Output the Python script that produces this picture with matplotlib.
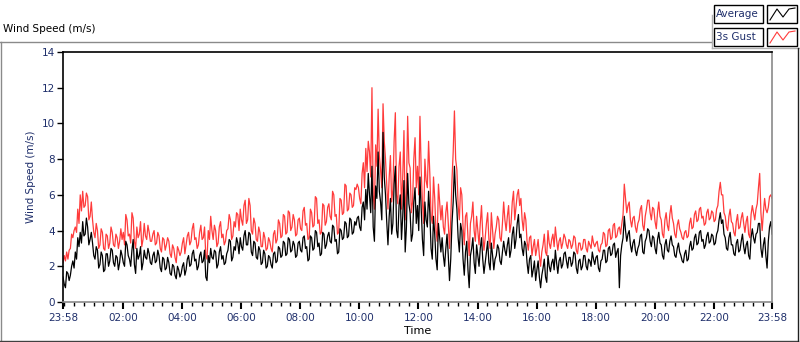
import numpy as np
import pandas as pd
import matplotlib
matplotlib.use("Agg")
import matplotlib.pyplot as plt
import matplotlib.dates as mdates
from matplotlib.lines import Line2D
from matplotlib.patches import Rectangle

# 2.5-minute samples starting 23:58, one row per hour
average = [
    1.4, 1.0, 0.8, 1.7, 1.6, 1.2, 1.5, 2.0, 2.3, 1.9, 2.8, 2.4, 3.6, 3.1, 3.9, 3.3, 4.5, 3.7, 3.8, 4.7, 4.2, 3.2, 3.5, 3.9,
    3.3, 2.6, 2.4, 3.1, 2.9, 1.9, 2.1, 2.8, 2.6, 1.7, 1.8, 2.7, 2.7, 2.0, 2.3, 3.0, 2.9, 2.2, 2.0, 2.6, 2.5, 1.8, 2.2, 2.9,
    2.6, 2.2, 2.0, 3.4, 3.2, 2.6, 2.4, 2.0, 2.9, 3.5, 2.1, 1.6, 3.0, 2.4, 2.6, 3.1, 1.8, 2.2, 2.9, 2.5, 2.4, 3.0, 2.7, 2.2,
    2.1, 2.6, 2.8, 2.2, 2.3, 2.9, 2.6, 1.9, 1.7, 2.5, 2.4, 1.8, 1.9, 2.5, 2.2, 1.6, 1.5, 2.1, 2.0, 1.5, 1.3, 2.0, 1.8, 1.4,
    1.6, 2.0, 2.2, 1.5, 1.8, 2.4, 2.6, 2.0, 2.1, 2.7, 2.9, 2.3, 2.4, 1.8, 2.0, 2.6, 2.8, 2.2, 2.3, 2.9, 1.4, 1.2, 2.6, 2.2,
    3.0, 2.5, 2.4, 2.9, 2.8, 1.9, 2.1, 2.8, 3.1, 2.4, 2.6, 2.1, 2.2, 2.7, 2.9, 3.5, 3.4, 2.3, 2.5, 3.1, 2.9, 3.6, 3.3, 2.7,
    3.6, 3.1, 2.9, 3.7, 4.0, 3.2, 3.2, 3.9, 3.8, 2.8, 2.6, 3.4, 3.3, 2.5, 2.4, 3.1, 2.9, 2.1, 2.2, 2.9, 2.7, 1.9, 2.0, 2.6,
    2.5, 2.1, 1.9, 2.7, 2.8, 2.2, 2.3, 3.1, 3.0, 2.5, 2.6, 3.4, 3.3, 2.6, 2.7, 3.6, 3.5, 2.8, 2.9, 3.4, 3.2, 2.5, 2.6, 3.3,
    3.4, 2.9, 2.8, 3.6, 3.7, 3.0, 3.1, 2.3, 2.4, 3.7, 3.6, 2.9, 3.0, 4.0, 3.9, 3.1, 3.3, 2.6, 2.7, 3.9, 3.8, 3.0, 3.2, 3.7,
    3.9, 3.4, 3.3, 4.3, 4.2, 3.4, 3.5, 2.7, 2.8, 4.1, 4.0, 3.5, 3.6, 4.5, 4.4, 3.6, 3.7, 4.7, 4.6, 3.8, 3.9, 4.5, 4.3, 4.7,
    4.8, 4.2, 4.0, 5.3, 5.6, 4.6, 6.3, 5.2, 7.2, 6.0, 5.0, 7.6, 4.2, 3.4, 6.5, 5.8, 8.4, 6.2, 5.6, 4.6, 9.5, 7.0, 6.0, 4.5,
    3.2, 4.8, 5.8, 3.8, 4.4, 6.6, 7.6, 4.0, 3.6, 5.4, 6.0, 3.5, 4.8, 6.8, 2.8, 4.2, 7.2, 5.5, 5.0, 3.4, 3.8, 5.6, 6.4, 4.4,
    5.4, 4.0, 7.0, 5.2, 3.5, 2.6, 5.6, 4.6, 4.2, 6.2, 5.0, 3.0, 2.4, 4.8, 3.8, 2.4, 1.8, 4.4, 3.6, 2.8, 3.6, 2.6, 2.0, 3.0,
    3.8, 2.6, 1.2, 2.4, 4.4, 5.6, 7.6, 6.0, 5.2, 3.6, 2.8, 4.4, 4.0, 2.4, 1.5, 2.8, 3.4, 1.8, 0.8, 2.6, 3.0, 3.6, 2.2, 1.6,
    3.2, 2.6, 2.0, 3.0, 3.6, 2.4, 1.6, 2.2, 2.8, 3.4, 2.2, 1.8, 3.3, 2.6, 1.8, 2.4, 2.6, 3.2, 3.0, 2.3, 2.1, 2.8, 3.4, 2.9,
    2.6, 3.2, 3.6, 2.5, 2.9, 3.8, 4.2, 3.0, 3.5, 4.4, 4.9, 3.6, 3.8, 3.0, 2.6, 3.4, 3.2, 2.2, 1.6, 2.4, 2.6, 1.4, 1.8, 2.3,
    1.2, 1.8, 2.3, 1.4, 0.8, 1.5, 1.9, 2.4, 1.4, 1.1, 2.6, 2.0, 1.7, 2.2, 2.4, 1.8, 2.9, 2.2, 1.6, 2.3, 2.5, 1.9, 2.1, 2.7,
    2.8, 2.3, 1.9, 2.5, 2.5, 2.0, 2.2, 2.8, 2.7, 1.9, 1.6, 2.3, 2.4, 1.8, 2.0, 2.6, 2.6, 2.0, 1.8, 2.4, 2.3, 2.0, 2.8, 2.4,
    2.1, 2.5, 2.6, 1.9, 1.7, 2.3, 2.4, 2.9, 2.9, 2.2, 2.3, 3.0, 3.1, 2.6, 2.7, 3.2, 3.3, 2.5, 2.8, 3.0, 0.8, 2.6, 3.2, 3.6,
    4.8, 4.0, 3.4, 3.8, 4.0, 3.2, 2.8, 3.3, 3.5, 2.9, 2.6, 3.0, 3.2, 3.7, 3.8, 2.8, 2.7, 3.4, 3.6, 4.1, 4.0, 3.4, 3.1, 3.7,
    3.6, 3.0, 2.7, 3.5, 3.9, 3.3, 3.2, 2.6, 2.4, 3.2, 3.5, 2.9, 2.8, 3.4, 3.7, 3.2, 3.1, 2.6, 2.5, 3.0, 3.3, 2.8, 2.6, 2.3,
    2.2, 2.7, 2.9, 2.3, 2.4, 3.1, 3.4, 2.9, 3.0, 3.6, 3.8, 3.2, 3.3, 3.9, 4.0, 3.4, 3.5, 3.0, 3.2, 3.7, 3.9, 3.3, 3.4, 3.8,
    3.7, 3.2, 3.3, 3.8, 4.0, 4.6, 5.0, 4.4, 4.6, 3.8, 3.6, 3.0, 2.9, 3.6, 3.9, 3.2, 3.2, 2.7, 2.6, 3.3, 3.5, 2.8, 2.9, 3.4,
    3.8, 3.1, 2.7, 3.2, 3.4, 2.6, 2.4, 3.6, 4.1, 3.6, 3.3, 3.8, 3.9, 4.4, 4.4, 3.0, 2.5, 3.2, 3.6, 2.6, 1.9, 3.4, 4.2, 4.5,
    3.8,
]
gust = [
    2.2, 2.6, 2.3, 2.8, 2.4, 2.9, 3.0, 3.8, 3.6, 4.0, 4.2, 3.9, 5.2, 4.4, 6.0, 5.1, 6.2, 5.3, 5.4, 6.1, 5.9, 4.6, 4.8, 5.6,
    4.6, 3.9, 3.6, 4.4, 4.0, 3.0, 3.2, 4.1, 3.9, 3.0, 2.9, 3.8, 3.7, 3.0, 3.3, 4.2, 3.9, 3.2, 3.1, 3.8, 3.6, 3.0, 3.4, 4.1,
    3.5, 3.9, 3.2, 4.9, 4.6, 3.7, 3.8, 3.3, 5.0, 4.7, 3.4, 3.0, 4.2, 3.6, 3.8, 4.5, 3.1, 3.5, 4.4, 3.7, 3.5, 4.3, 3.9, 3.4,
    3.4, 3.8, 4.0, 3.2, 3.3, 3.9, 3.7, 3.0, 2.8, 3.6, 3.5, 2.9, 3.2, 3.6, 3.4, 2.7, 2.5, 3.2, 3.0, 2.5, 2.2, 3.1, 2.9, 2.6,
    2.8, 3.3, 3.6, 2.7, 3.2, 3.7, 3.9, 3.2, 3.4, 4.1, 4.4, 3.5, 3.6, 3.0, 3.2, 3.9, 4.3, 3.5, 3.6, 4.2, 2.6, 2.4, 4.0, 3.5,
    4.8, 4.0, 3.5, 4.3, 4.0, 3.1, 3.3, 4.2, 4.5, 3.6, 3.8, 3.2, 3.4, 4.0, 4.1, 4.9, 4.6, 3.5, 3.7, 4.5, 4.2, 5.0, 4.9, 4.0,
    5.2, 4.6, 4.3, 5.4, 5.7, 4.4, 4.6, 5.8, 5.4, 4.0, 3.8, 4.7, 4.4, 3.5, 3.4, 4.2, 3.9, 3.1, 3.1, 3.9, 3.6, 2.9, 3.0, 3.6,
    3.4, 3.0, 2.8, 3.8, 4.0, 3.3, 3.5, 4.6, 4.4, 3.6, 3.7, 4.9, 4.8, 3.8, 3.9, 5.1, 5.0, 4.0, 4.2, 4.9, 4.6, 3.7, 3.8, 4.6,
    4.7, 4.1, 4.0, 5.1, 5.3, 4.3, 4.4, 3.5, 3.6, 5.2, 5.0, 4.2, 4.3, 5.9, 5.8, 4.4, 4.6, 3.8, 3.9, 5.5, 5.4, 4.3, 4.5, 5.3,
    5.5, 4.8, 4.6, 6.2, 6.0, 4.8, 4.9, 3.8, 3.9, 5.8, 5.7, 4.9, 5.0, 6.6, 6.5, 5.1, 5.2, 6.1, 6.0, 5.3, 5.4, 6.4, 6.3, 6.6,
    6.4, 5.8, 5.5, 7.2, 7.8, 6.4, 8.6, 7.3, 9.0, 8.4, 7.0, 12.0, 6.0, 5.2, 8.8, 7.6, 10.8, 8.2, 7.4, 6.4, 11.1, 9.0, 8.0, 6.6,
    5.2, 7.0, 8.2, 5.6, 6.3, 9.0, 10.6, 6.0, 5.5, 7.6, 8.4, 5.2, 7.0, 9.6, 4.6, 6.2, 10.4, 7.8, 7.5, 5.0, 5.6, 8.0, 9.2, 6.4,
    7.6, 6.0, 10.4, 7.4, 5.6, 4.4, 8.0, 6.8, 6.4, 9.0, 7.2, 4.8, 4.4, 7.0, 5.8, 4.0, 3.4, 6.6, 5.6, 4.6, 5.4, 4.2, 3.8, 5.0,
    5.6, 4.4, 3.0, 4.6, 6.8, 8.4, 10.7, 8.0, 7.4, 5.4, 4.6, 6.4, 6.0, 4.2, 3.2, 4.8, 5.0, 3.6, 2.6, 4.4, 4.8, 5.6, 4.0, 3.4,
    4.8, 4.0, 3.2, 4.4, 5.4, 3.8, 2.9, 3.6, 4.4, 5.0, 3.5, 3.0, 5.0, 4.0, 3.0, 3.8, 4.2, 4.8, 4.6, 3.6, 3.4, 4.4, 5.6, 4.6,
    4.0, 4.8, 5.4, 3.9, 4.4, 5.6, 6.2, 4.6, 5.3, 6.0, 6.3, 5.4, 5.8, 4.6, 4.0, 5.0, 4.6, 3.4, 2.9, 3.6, 3.7, 2.6, 3.1, 3.5,
    2.6, 3.0, 3.5, 2.6, 2.0, 2.8, 3.2, 3.8, 2.8, 2.6, 4.0, 3.3, 3.0, 3.5, 3.8, 3.1, 4.2, 3.5, 2.9, 3.4, 3.6, 3.0, 3.3, 3.8,
    3.6, 3.2, 3.0, 3.5, 3.4, 3.0, 3.2, 3.7, 3.6, 2.9, 2.7, 3.3, 3.3, 2.9, 3.0, 3.5, 3.5, 3.0, 2.8, 3.4, 3.2, 3.0, 3.7, 3.3,
    3.1, 3.3, 3.4, 2.9, 2.8, 3.2, 3.3, 3.9, 3.8, 3.1, 3.2, 4.0, 4.1, 3.5, 3.6, 4.3, 4.4, 3.6, 3.7, 4.1, 4.2, 3.8, 4.4, 4.9,
    6.6, 5.8, 5.0, 5.4, 5.6, 4.6, 4.2, 4.7, 4.8, 4.2, 3.9, 4.4, 4.6, 5.2, 5.4, 4.3, 4.0, 4.8, 5.2, 5.7, 5.7, 5.0, 4.6, 5.3,
    5.2, 4.5, 4.1, 5.0, 5.6, 4.8, 4.6, 3.8, 3.6, 4.6, 5.0, 4.3, 4.0, 4.9, 5.4, 4.7, 4.4, 3.8, 3.6, 4.3, 4.6, 4.1, 3.9, 3.6,
    3.5, 3.9, 4.0, 3.6, 3.7, 4.4, 4.7, 4.1, 4.2, 4.9, 5.1, 4.5, 4.6, 5.2, 5.3, 4.7, 4.8, 4.3, 4.4, 5.0, 5.2, 4.6, 4.7, 5.1,
    5.0, 4.5, 4.6, 5.2, 5.4, 6.2, 6.7, 6.0, 6.0, 5.0, 4.8, 4.2, 4.0, 4.8, 5.2, 4.5, 4.4, 3.9, 3.7, 4.5, 4.9, 4.1, 4.2, 4.7,
    5.0, 4.4, 3.9, 4.5, 4.8, 3.8, 3.6, 4.9, 5.4, 5.0, 4.6, 5.2, 5.5, 6.4, 7.2, 5.0, 4.0, 5.0, 5.8, 5.2, 5.0, 5.3, 5.9, 6.0,
    5.8,
]
times = pd.date_range("2020-01-01 23:58", periods=len(average), freq="150s")

legend_names = ["Average", "3s Gust"]
navy = "#1f2f6b"
red = "#ff3b3b"

fig = plt.figure(figsize=(8, 3.42), dpi=100)
ax = fig.add_axes([63 / 800, 1 - 302 / 342, 709 / 800, 250 / 342])

ax.plot(times, gust, color=red, lw=0.9)
ax.plot(times, average, color="black", lw=0.9)

ax.set_xlim(times[0], times[-1])
ax.set_ylim(0, 14)
ax.set_yticks(range(0, 15, 2))

major = [times[0]] + list(pd.date_range("2020-01-02 02:00", periods=11, freq="2h")) + [times[-1]]
ax.set_xticks(major)
ax.set_xticklabels([t.strftime("%H:%M") for t in major])
ax.xaxis.set_minor_locator(mdates.MinuteLocator(byminute=[0, 20, 40]))

ax.tick_params(axis="both", labelsize=7.5, colors="black", labelcolor=navy, direction="out")
ax.tick_params(axis="x", which="major", length=5, width=1.5, pad=3)
ax.tick_params(axis="x", which="minor", length=3, width=1)
ax.tick_params(axis="y", length=4, width=1, pad=2)

ax.set_ylabel("Wind Speed (m/s)", fontsize=7.5, color=navy, labelpad=4)
ax.set_xlabel("Time", fontsize=8, color="black", labelpad=2)

for side in ("top", "left"):
    ax.spines[side].set_color("black")
    ax.spines[side].set_linewidth(1.2)
for side in ("right", "bottom"):
    ax.spines[side].set_color("#8a8a8a")
    ax.spines[side].set_linewidth(1.2)

# panel frame and title
def px_line(x0, y0, x1, y1, color, lw=1.0):
    fig.add_artist(Line2D([x0 / 800, x1 / 800], [1 - y0 / 342, 1 - y1 / 342],
                          color=color, lw=lw, transform=fig.transFigure))

px_line(0, 42, 712, 42, "#8a8a8a")
px_line(0.5, 42, 0.5, 341, "#8a8a8a")
px_line(0, 341, 798, 341, "#404040")
px_line(712, 15, 712, 48, "#b0b0b0")
px_line(712, 48, 800, 48, "#b0b0b0")
px_line(798, 48, 798, 341, "#202020")

fig.text(3 / 800, 1 - 32 / 342, "Wind Speed (m/s)", fontsize=7.5, color="black", va="baseline")

# legend boxes
colors = ["black", red]
for i, name in enumerate(legend_names):
    y0 = 5 + i * 23
    fig.add_artist(Rectangle((714 / 800, 1 - (y0 + 18) / 342), 49 / 800, 18 / 342,
                             transform=fig.transFigure, fill=False, ec="black", lw=1))
    fig.text(716 / 800, 1 - (y0 + 9) / 342, name, fontsize=7.5, color=navy, va="center")
    fig.add_artist(Rectangle((767 / 800, 1 - (y0 + 18) / 342), 30 / 800, 18 / 342,
                             transform=fig.transFigure, fill=False, ec="black", lw=1))
    zx = np.array([770, 777, 783, 789, 795]) / 800
    zy = 1 - (y0 + np.array([15, 4, 12, 4, 3])) / 342
    fig.add_artist(Line2D(zx, zy, color=colors[i], lw=0.8, transform=fig.transFigure))

fig.savefig("out.png", dpi=100)
